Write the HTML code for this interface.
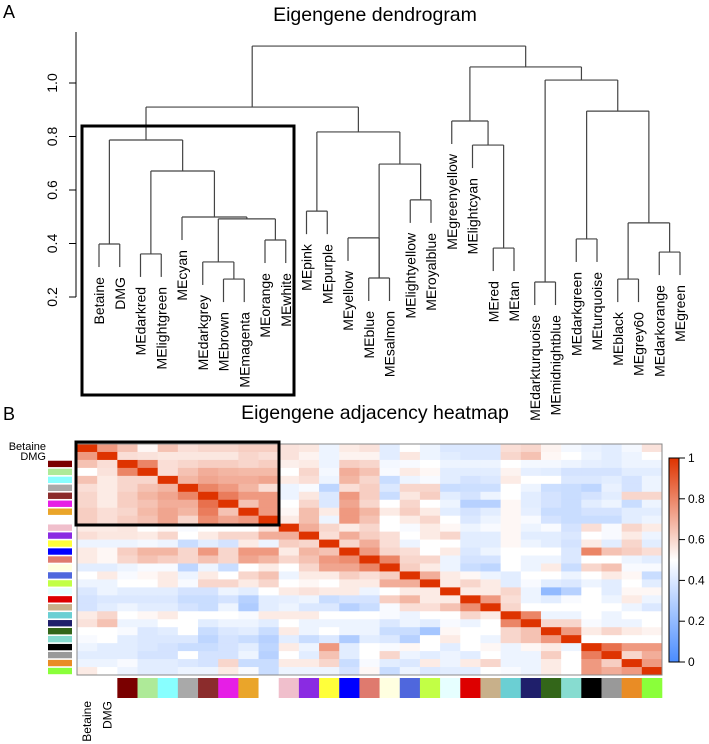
<!DOCTYPE html>
<html><head><meta charset="utf-8"><style>
html,body{margin:0;padding:0;background:#fff}
svg{display:block;font-family:"Liberation Sans",Arial,sans-serif}
</style></head><body>
<svg id="fig" width="709" height="744" viewBox="0 0 709 744" xmlns="http://www.w3.org/2000/svg">
<text x="3" y="18" font-size="18">A</text>
<text x="375" y="21" font-size="19.5" text-anchor="middle">Eigengene dendrogram</text>
<text x="3" y="420" font-size="18">B</text>
<text x="375" y="419" font-size="19.5" text-anchor="middle">Eigengene adjacency heatmap</text>
<g id="dendro"></g>
<g id="heat"></g>
<g id="cbar"></g>
</svg>
<script>
const leafNames = ["Betaine","DMG","MEdarkred","MElightgreen","MEcyan","MEdarkgrey","MEbrown","MEmagenta","MEorange","MEwhite","MEpink","MEpurple","MEyellow","MEblue","MEsalmon","MElightyellow","MEroyalblue","MEgreenyellow","MElightcyan","MEred","MEtan","MEdarkturquoise","MEmidnightblue","MEdarkgreen","MEturquoise","MEblack","MEgrey60","MEdarkorange","MEgreen"];
const moduleColors = [null,null,"#7a0000","#aeea98","#88ffff","#a9a9a9","#8b2c2c","#e61ee6","#eaa52a","#ffffff","#f0bfcc","#8a2be2","#ffff3a","#0000ff","#df7a6e","#ffffe0","#4f67dd","#c2ff45","#e6ffff","#dd0000","#c8b08a","#6bcfd3","#1f1f6b","#336619","#87dcd0","#000000","#999999","#e98c25","#8aff3a"];
const mergeA = [-1,-3,-9,-7,-6,5,-5,2,1,-11,-14,-13,-16,11,10,9,-20,-19,-18,-22,-24,-26,-28,22,21,20,19,16];
const mergeB = [-2,-4,-10,-8,4,3,6,7,8,-12,-15,11,-17,13,14,15,-21,17,18,-23,-25,-27,-29,23,24,25,26,27];
const mergeH = [0.398,0.361,0.413,0.267,0.331,0.492,0.499,0.671,0.787,0.521,0.271,0.421,0.563,0.697,0.817,0.910,0.383,0.768,0.858,0.256,0.417,0.267,0.368,0.477,0.895,1.011,1.060,1.138];
const yTicks = [0.2,0.4,0.6,0.8,1.0];
const adj = [
[1,.75,.65,.52,.65,.58,.6,.6,.62,.62,.57,.56,.45,.55,.57,.42,.5,.45,.4,.4,.4,.58,.6,.53,.47,.44,.42,.47,.57],
[.75,1,.58,.57,.56,.56,.56,.56,.6,.58,.57,.53,.45,.53,.53,.42,.56,.45,.42,.4,.4,.6,.65,.52,.5,.45,.42,.45,.5],
[.65,.58,1,.8,.58,.6,.62,.62,.6,.62,.54,.55,.45,.62,.6,.47,.48,.5,.45,.45,.45,.5,.47,.47,.45,.43,.42,.45,.45],
[.5,.57,.8,1,.58,.65,.7,.68,.67,.67,.5,.6,.47,.7,.65,.48,.55,.52,.42,.42,.42,.53,.43,.42,.38,.38,.38,.42,.42],
[.65,.55,.6,.6,1,.68,.72,.7,.7,.72,.55,.58,.45,.68,.6,.35,.45,.48,.42,.38,.4,.55,.5,.5,.4,.4,.42,.38,.45],
[.58,.55,.6,.65,.68,1,.8,.75,.68,.58,.45,.48,.32,.58,.62,.4,.6,.6,.35,.36,.36,.5,.45,.36,.35,.32,.44,.38,.45],
[.6,.55,.62,.68,.72,.8,1,.82,.75,.75,.45,.56,.4,.75,.62,.35,.56,.62,.42,.38,.45,.5,.42,.38,.35,.38,.42,.6,.6],
[.6,.55,.62,.65,.7,.7,.85,1,.65,.75,.5,.6,.4,.72,.6,.5,.6,.5,.45,.3,.3,.52,.42,.38,.35,.42,.45,.35,.45],
[.62,.58,.6,.67,.72,.68,.82,.65,1,.75,.52,.66,.55,.75,.68,.55,.62,.55,.42,.38,.42,.52,.43,.35,.35,.38,.38,.42,.42],
[.62,.58,.62,.65,.72,.6,.78,.72,.75,1,.55,.66,.45,.75,.65,.5,.55,.6,.5,.4,.45,.52,.48,.38,.35,.35,.35,.42,.45],
[.55,.55,.56,.5,.52,.48,.5,.5,.5,.58,1,.7,.6,.55,.6,.5,.48,.55,.52,.45,.48,.52,.45,.48,.38,.58,.48,.6,.55],
[.58,.56,.56,.55,.6,.5,.55,.6,.6,.7,.7,1,.58,.7,.62,.58,.5,.55,.6,.42,.42,.52,.42,.42,.4,.5,.48,.55,.45],
[.45,.45,.45,.47,.45,.35,.42,.38,.55,.45,.62,.6,1,.6,.7,.58,.45,.5,.5,.42,.42,.52,.45,.42,.38,.55,.42,.6,.42],
[.55,.52,.62,.68,.68,.6,.75,.6,.75,.75,.55,.68,.65,1,.75,.6,.58,.5,.55,.4,.45,.5,.5,.5,.4,.8,.65,.62,.58],
[.55,.52,.6,.65,.62,.6,.65,.6,.72,.68,.6,.65,.75,.78,1,.8,.6,.6,.45,.38,.38,.5,.45,.45,.4,.5,.5,.45,.42],
[.42,.42,.45,.48,.48,.32,.45,.35,.5,.55,.5,.6,.72,.72,.8,1,.62,.55,.45,.35,.32,.5,.45,.55,.35,.6,.65,.48,.48],
[.5,.55,.48,.52,.55,.45,.55,.5,.6,.65,.45,.55,.55,.62,.58,.62,1,.7,.55,.52,.45,.42,.5,.5,.45,.5,.55,.52,.35],
[.45,.45,.5,.5,.55,.48,.6,.6,.55,.6,.5,.52,.5,.55,.55,.7,.7,1,.55,.6,.55,.42,.48,.42,.4,.45,.42,.5,.42],
[.4,.45,.42,.42,.42,.38,.38,.45,.42,.5,.55,.57,.55,.55,.45,.5,.55,.55,1,.55,.55,.6,.45,.2,.3,.5,.42,.52,.52],
[.38,.4,.4,.4,.4,.35,.35,.38,.3,.42,.43,.45,.35,.38,.38,.62,.68,.55,.55,1,.75,.58,.45,.42,.48,.5,.45,.55,.45],
[.38,.42,.45,.42,.42,.38,.35,.45,.28,.42,.45,.4,.4,.3,.35,.48,.58,.58,.65,.78,1,.6,.5,.5,.5,.5,.5,.45,.4],
[.55,.6,.5,.52,.55,.5,.5,.5,.48,.55,.55,.55,.5,.5,.5,.48,.45,.5,.5,.6,.55,1,.8,.45,.45,.5,.45,.5,.5],
[.57,.65,.45,.45,.5,.5,.42,.45,.45,.42,.5,.45,.45,.45,.45,.4,.45,.42,.48,.45,.5,.8,1,.6,.6,.48,.45,.45,.5],
[.5,.5,.48,.4,.42,.5,.35,.4,.42,.35,.55,.45,.5,.45,.45,.35,.35,.25,.52,.5,.5,.6,.65,1,.75,.55,.6,.55,.53],
[.48,.5,.42,.4,.4,.4,.32,.38,.35,.3,.42,.35,.4,.28,.42,.4,.3,.5,.55,.5,.45,.6,.65,.75,1,.5,.5,.5,.5],
[.45,.42,.42,.4,.38,.35,.35,.38,.42,.32,.55,.45,.75,.42,.5,.48,.52,.5,.42,.5,.52,.45,.52,.55,.45,1,.85,.75,.75],
[.42,.42,.42,.38,.38,.5,.38,.38,.45,.3,.5,.42,.65,.42,.5,.6,.45,.42,.45,.42,.5,.45,.45,.62,.5,.82,1,.6,.7],
[.45,.45,.48,.42,.42,.4,.38,.6,.35,.35,.55,.55,.6,.35,.48,.42,.4,.55,.45,.55,.6,.45,.45,.55,.5,.75,.62,1,.75],
[.55,.5,.45,.42,.42,.45,.45,.55,.48,.35,.45,.45,.45,.38,.52,.35,.45,.4,.42,.42,.5,.48,.45,.55,.5,.75,.7,.75,1]];
const cbarTicks = [0,0.2,0.4,0.6,0.8,1];
const cbarLabels = ["0","0.2","0.4","0.6","0.8","1"];

const NS="http://www.w3.org/2000/svg";
function mk(parent,tag,attrs,text){const e=document.createElementNS(NS,tag);for(const k in attrs)e.setAttribute(k,attrs[k]);if(text!==undefined)e.textContent=text;parent.appendChild(e);return e;}

const D=document.getElementById('dendro');
const leafX=i=>99+i*20.75;
const yV=v=>297-(v-0.2)*267.5;
const hang=0.086;
const ax=mk(D,'line',{x1:76,y1:32,x2:76,y2:297,stroke:'#000','stroke-width':1});


yTicks.forEach(t=>{
  const tk=mk(D,'line',{x1:69,y1:yV(t),x2:76,y2:yV(t),stroke:'#000','stroke-width':1});
  
  
  const tl=mk(D,'text',{x:0,y:0,'font-size':14,'text-anchor':'middle',transform:`translate(57,${yV(t)}) rotate(-90)`},t.toFixed(1));
  
  
});
const nodeX=[],nodeH=[];
function pos(ref){ if(ref<0) return {x:leafX(-ref-1),h:null,leaf:-ref-1}; return {x:nodeX[ref-1],h:nodeH[ref-1],leaf:null}; }
for(let m=0;m<mergeH.length;m++){
  const a=pos(mergeA[m]),b=pos(mergeB[m]),h=mergeH[m];
  const y=yV(h);
  [a,b].forEach(c=>{
    const yb=c.leaf!==null?yV(h-hang):yV(c.h);
    const ln=mk(D,'line',{x1:c.x,y1:y,x2:c.x,y2:yb,stroke:'#444','stroke-width':1.2});
    
    
    if(c.leaf!==null){
      const t=mk(D,'text',{x:0,y:0,'font-size':14,'text-anchor':'end',transform:`translate(${c.x+5},${yb+10}) rotate(-90)`},leafNames[c.leaf]);
      
      
    }
  });
  const hl=mk(D,'line',{x1:a.x,y1:y,x2:b.x,y2:y,stroke:'#444','stroke-width':1.2});
  
  
  nodeX.push((a.x+b.x)/2); nodeH.push(h);
}
const box1=mk(D,'rect',{x:82,y:126,width:212,height:269,fill:'none',stroke:'#000','stroke-width':3});



const H=document.getElementById('heat');
const n=leafNames.length,x0=77,y0=444,cw=585/n,ch=231/n;
function col(v){
  const lo=[74,140,255],mid=[255,255,255],hi=[222,51,0];
  let a,b,t;
  if(v<0.5){a=lo;b=mid;t=v/0.5;}else{a=mid;b=hi;t=(v-0.5)/0.5;}
  return `rgb(${a.map((c,i)=>Math.round(c+(b[i]-c)*t)).join(',')})`;
}
for(let r=0;r<n;r++)for(let c=0;c<n;c++){
  const cell=mk(H,'rect',{x:x0+c*cw,y:y0+r*ch,width:cw+0.4,height:ch+0.4,fill:col(adj[r][c])});
  
  
}
const hb=mk(H,'rect',{x:x0,y:y0,width:585,height:231,fill:'none',stroke:'#888','stroke-width':1});


const box2=mk(H,'rect',{x:76,y:442,width:203,height:83,fill:'none',stroke:'#000','stroke-width':3});


for(let i=0;i<n;i++){
  if(moduleColors[i]){
    const lb=mk(H,'rect',{x:48,y:y0+i*ch+0.8,width:24,height:ch-1.6,fill:moduleColors[i]});
    
    
    const bb=mk(H,'rect',{x:x0+i*cw,y:678,width:cw+0.3,height:20,fill:moduleColors[i]});
    
    
  } else {
    const rl=mk(H,'text',{x:46,y:y0+i*ch+ (i===0?6:8),'font-size':11,'text-anchor':'end'},leafNames[i]);
    
    
    const cl=mk(H,'text',{x:0,y:0,'font-size':12,'text-anchor':'end',transform:`translate(${x0+i*cw+cw/2+4},701) rotate(-90)`},leafNames[i]);
    
    
  }
}

const C=document.getElementById('cbar');
const defs=mk(document.getElementById('fig'),'defs',{});
const g=mk(defs,'linearGradient',{id:'grad',x1:0,y1:1,x2:0,y2:0});
[0,0.25,0.5,0.75,1].forEach(v=>mk(g,'stop',{offset:v,'stop-color':col(v)}));
const cb=mk(C,'rect',{x:669,y:458,width:10,height:204,fill:'url(#grad)',stroke:'#000','stroke-width':1});


const cy=v=>662-v*204;
cbarTicks.forEach((t,i)=>{
  const tk=mk(C,'line',{x1:679,y1:cy(t),x2:685,y2:cy(t),stroke:'#000','stroke-width':1});
  
  
  const tl=mk(C,'text',{x:688,y:cy(t)+4,'font-size':12},cbarLabels[i]);
  
  
});
</script>
</body></html>
